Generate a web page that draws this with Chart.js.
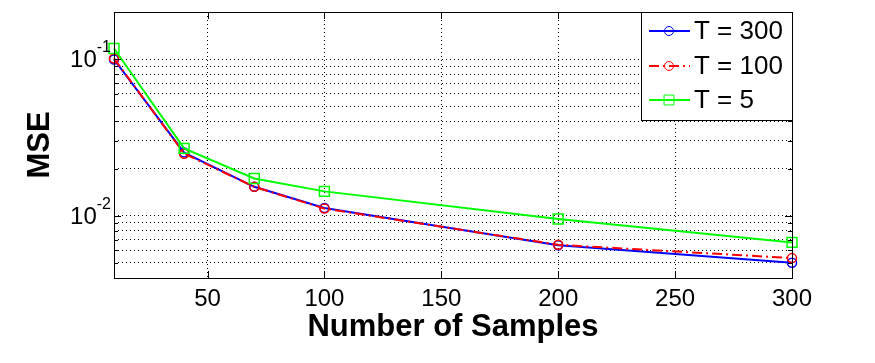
<!DOCTYPE html>
<html>
<head>
<meta charset="utf-8">
<script src="https://cdn.jsdelivr.net/npm/chart.js@4/dist/chart.umd.min.js"></script>
<style>
  html, body { margin: 0; padding: 0; background: #fff; }
  #wrap { width: 875px; height: 363px; }
</style>
</head>
<body>
<div id="wrap"><canvas id="myChart" width="875" height="363"></canvas></div>
<script>
// Values
const samples = [10, 40, 70, 100, 200, 300];
const mseT300 = [0.0995, 0.0253, 0.0153, 0.0112, 0.00648, 0.00500];
const mseT100 = [0.101, 0.0249, 0.0153, 0.0111, 0.00652, 0.00536];
const mseT5 = [0.117, 0.0269, 0.0173, 0.0143, 0.00953, 0.00675];
const seriesLabels = ['T = 300', 'T = 100', 'T = 5'];

// Axis ticks
const xTicks = [50, 100, 150, 200, 250, 300];
const yGridTicks = [0.004, 0.005, 0.006, 0.007, 0.008, 0.009, 0.01,
  0.02, 0.03, 0.04, 0.05, 0.06, 0.07, 0.08, 0.09, 0.1, 0.2];
const yLabelTicks = [0.1, 0.01];
const yLabelExps = ['-1', '-2'];

const FONT = '"Liberation Sans", Arial, sans-serif';
Chart.defaults.font.family = FONT;
Chart.defaults.color = '#000';

// MATLAB style frame, inside ticks, y labels with exponents and the legend box
const matlabLook = {
  id: 'matlabLook',
  afterDraw(chart) {
    const { ctx, chartArea: a, scales } = chart;
    const xs = scales.x, ys = scales.y;
    ctx.save();

    // tick marks inside the box
    ctx.strokeStyle = '#000';
    ctx.lineWidth = 1;
    ctx.beginPath();
    xTicks.forEach(v => {
      const px = Math.round(xs.getPixelForValue(v)) + 0.5;
      ctx.moveTo(px, a.bottom); ctx.lineTo(px, a.bottom - 7);
      ctx.moveTo(px, a.top); ctx.lineTo(px, a.top + 7);
    });
    yGridTicks.forEach(v => {
      const py = Math.round(ys.getPixelForValue(v)) + 0.5;
      const len = yLabelTicks.includes(v) ? 7 : 4;
      ctx.moveTo(a.left, py); ctx.lineTo(a.left + len, py);
      ctx.moveTo(a.right, py); ctx.lineTo(a.right - len, py);
    });
    ctx.stroke();

    // frame
    ctx.strokeRect(Math.round(a.left) + 0.5, Math.round(a.top) + 0.5,
      Math.round(a.right - a.left), Math.round(a.bottom - a.top));

    // y labels 10^-n
    yLabelTicks.forEach((v, i) => {
      const py = ys.getPixelForValue(v);
      ctx.font = '16px ' + FONT;
      const ew = ctx.measureText(yLabelExps[i]).width;
      const xr = a.left - 3;
      ctx.fillStyle = '#000';
      ctx.textBaseline = 'alphabetic';
      ctx.textAlign = 'left';
      ctx.fillText(yLabelExps[i], xr - ew, py - 7);
      ctx.font = '24px ' + FONT;
      ctx.textAlign = 'right';
      ctx.fillText('10', xr - ew, py + 8);
    });

    // legend
    const lx = 641, ly = 12, lw = 151, lh = 108;
    ctx.fillStyle = '#fff';
    ctx.fillRect(lx, ly, lw, lh);
    ctx.strokeStyle = '#000';
    ctx.strokeRect(lx + 0.5, ly + 0.5, lw, lh);
    const rows = [31, 66, 100];
    chart.data.datasets.forEach((ds, i) => {
      const y = rows[i];
      ctx.save();
      ctx.strokeStyle = ds.borderColor;
      ctx.lineWidth = ds.borderWidth;
      ctx.setLineDash(ds.borderDash || []);
      ctx.beginPath();
      ctx.moveTo(649, y); ctx.lineTo(690, y);
      ctx.stroke();
      ctx.restore();
      ctx.save();
      ctx.strokeStyle = ds.borderColor;
      ctx.fillStyle = 'rgba(0,0,0,0)';
      Chart.helpers.drawPoint(ctx, {
        pointStyle: ds.pointStyle, radius: ds.pointRadius,
        rotation: 0, borderWidth: ds.pointBorderWidth
      }, 669, y);
      ctx.restore();
      ctx.fillStyle = '#000';
      ctx.font = '26px ' + FONT;
      ctx.textAlign = 'left';
      ctx.textBaseline = 'middle';
      ctx.fillText(ds.label, 694, y + 1);
    });
    ctx.restore();
  }
};

const ctx = document.getElementById('myChart');
const myChart = new Chart(ctx, {
  type: 'line',
  data: {
    datasets: [
      {
        label: seriesLabels[0],
        data: samples.map((x, i) => ({ x: x, y: mseT300[i] })),
        borderColor: '#0000ff',
        borderWidth: 2,
        pointStyle: 'circle',
        pointRadius: 4.5,
        pointBorderWidth: 1.5,
        pointBackgroundColor: 'rgba(0,0,0,0)',
        order: 2,
      },
      {
        label: seriesLabels[1],
        data: samples.map((x, i) => ({ x: x, y: mseT100[i] })),
        borderColor: '#ff0000',
        borderWidth: 2,
        borderDash: [10, 4, 2, 4],
        pointStyle: 'circle',
        pointRadius: 4.5,
        pointBorderWidth: 1.5,
        pointBackgroundColor: 'rgba(0,0,0,0)',
        order: 1,
      },
      {
        label: seriesLabels[2],
        data: samples.map((x, i) => ({ x: x, y: mseT5[i] })),
        borderColor: '#00ff00',
        borderWidth: 2,
        pointStyle: 'rect',
        pointRadius: 7,
        pointBorderWidth: 1.5,
        pointBackgroundColor: 'rgba(0,0,0,0)',
        order: 0,
      },
    ],
  },
  options: {
    responsive: false,
    animation: false,
    clip: false,
    layout: { padding: { left: 0, top: 12, right: 83, bottom: 0 } },
    plugins: { legend: { display: false }, tooltip: { enabled: false } },
    scales: {
      x: {
        type: 'linear',
        min: 10,
        max: 300,
        afterBuildTicks: s => { s.ticks = xTicks.map(v => ({ value: v })); },
        afterFit: s => { s.height = 85; },
        ticks: { font: { size: 24 }, padding: 7, maxRotation: 0 },
        grid: { color: '#000', lineWidth: 1, drawTicks: false },
        border: { display: false, dash: [1, 3] },
        title: {
          display: true,
          text: 'Number of Samples',
          font: { size: 31, weight: 'bold' },
          padding: { top: 0, bottom: 17 },
        },
      },
      y: {
        type: 'logarithmic',
        min: 0.004,
        max: 0.2,
        afterBuildTicks: s => { s.ticks = yGridTicks.map(v => ({ value: v })); },
        afterFit: s => { s.width = 114; },
        ticks: { display: false },
        grid: { color: '#000', lineWidth: 1, drawTicks: false },
        border: { display: false, dash: [1, 3] },
        title: {
          display: true,
          text: 'MSE',
          font: { size: 31, weight: 'bold' },
          padding: { top: 22, bottom: 0 },
        },
      },
    },
  },
  plugins: [matlabLook],
});
</script>
</body>
</html>
